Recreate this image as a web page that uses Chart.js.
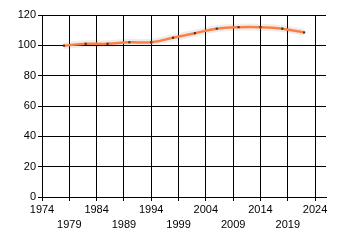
<!DOCTYPE html>
<html><head><meta charset="utf-8">
<script src="https://cdn.jsdelivr.net/npm/chart.js@4/dist/chart.umd.min.js"></script>
<style>html,body{margin:0;padding:0;background:#fff;}#wrap{width:340px;height:245px;}</style>
</head><body><div id="wrap"><canvas id="c" width="340" height="245"></canvas></div>
<script>
const years = [1978, 1982, 1986, 1990, 1994, 1998, 2002, 2006, 2010, 2014, 2018, 2022];
const values = [99.8, 101, 101, 102, 102, 105, 108, 111, 112, 112, 111, 108.5];
const xTickYears = [1974, 1979, 1984, 1989, 1994, 1999, 2004, 2009, 2014, 2019, 2024];
const yTicks = [0, 20, 40, 60, 80, 100, 120];

const pts = years.map((y, i) => ({x: y, y: values[i]}));
const font = {family: 'Liberation Sans', size: 11, lineHeight: 1.35};
new Chart(document.getElementById('c'), {
  type: 'line',
  data: {datasets: [
    {data: pts, borderColor: '#FF7F40', borderWidth: 2.5, tension: 0.4,
     pointStyle: 'rect', pointRadius: 1.5, pointBackgroundColor: '#333', pointBorderColor: '#333', pointBorderWidth: 0, order: 0},
    {data: pts, borderColor: 'rgba(0,0,0,0.07)', borderWidth: 7, tension: 0.4, pointRadius: 0, order: 1}
  ]},
  options: {
    responsive: false, animation: false, devicePixelRatio: 1,
    layout: {padding: {top: 15, right: 14, left: 0, bottom: 0}},
    plugins: {legend: {display: false}, tooltip: {enabled: false}},
    scales: {
      x: {type: 'linear', min: 1974, max: 2026,
        afterBuildTicks: s => { s.ticks = xTickYears.map(v => ({value: v})); },
        afterFit: s => { s.height = 48; },
        grid: {color: '#000', tickLength: 4, lineWidth: 1},
        border: {color: '#000'},
        ticks: {color: '#000', font: font, maxRotation: 0, autoSkip: false, padding: 2,
          callback: (v, i) => i % 2 === 0 ? String(v) : ['', String(v)]}
      },
      y: {min: 0, max: 120,
        afterBuildTicks: s => { s.ticks = yTicks.map(v => ({value: v})); },
        afterFit: s => { s.width = 42; },
        grid: {color: '#000', tickLength: 4, lineWidth: 1},
        border: {color: '#000'},
        ticks: {color: '#000', font: font, padding: 2}
      }
    }
  }
});
</script></body></html>
